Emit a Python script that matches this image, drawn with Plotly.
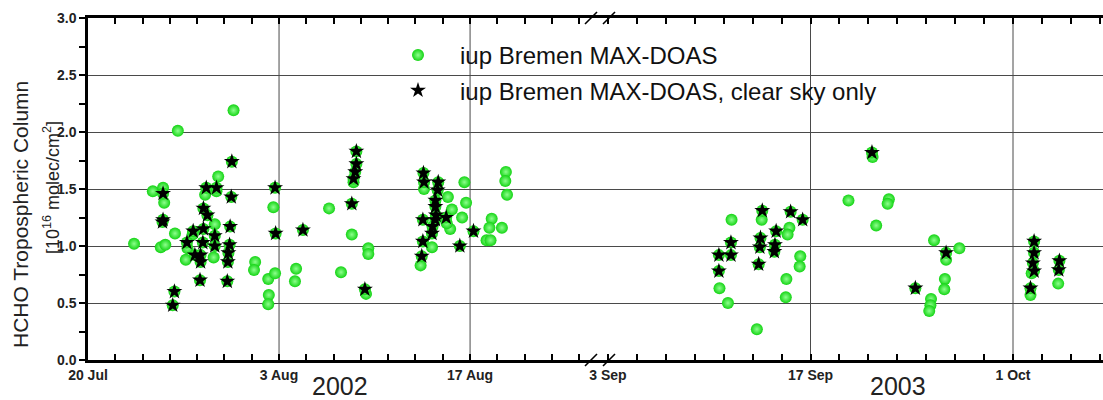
import plotly.graph_objects as go

# ---------------- data ----------------
# 2002 campaign (left axis segment): all-sky measurements not flagged clear
GREEN_L_DATES = [
    "2002-07-23 09:00", "2002-07-26 14:00", "2002-07-30 16:00", "2002-07-24 18:00",
    "2002-07-25 12:00", "2002-07-25 14:00", "2002-07-25 08:00", "2002-07-25 16:00",
    "2002-07-26 09:00", "2002-07-27 04:00", "2002-07-27 07:00", "2002-07-27 16:00",
    "2002-07-28 14:00", "2002-07-29 07:00", "2002-07-29 05:00", "2002-07-29 13:00",
    "2002-07-29 10:00", "2002-08-01 06:00", "2002-08-01 04:00", "2002-08-02 05:00",
    "2002-08-02 06:00", "2002-08-02 05:00", "2002-08-02 14:00", "2002-08-02 17:00",
    "2002-08-04 06:00", "2002-08-04 04:00", "2002-08-06 16:00", "2002-08-08 08:00",
    "2002-08-07 13:00", "2002-08-09 13:00", "2002-08-09 13:00", "2002-08-09 09:00",
    "2002-08-08 11:00", "2002-08-13 09:00", "2002-08-13 15:00", "2002-08-14 05:00",
    "2002-08-15 09:00", "2002-08-15 16:00", "2002-08-15 13:00", "2002-08-15 07:00",
    "2002-08-16 10:00", "2002-08-16 14:00", "2002-08-16 17:00", "2002-08-18 14:00",
    "2002-08-18 10:00", "2002-08-18 05:00", "2002-08-18 12:00", "2002-08-19 08:00",
    "2002-08-19 15:00", "2002-08-19 14:00", "2002-08-19 17:00",
]
GREEN_L_VALUES = [
    1.02, 2.01, 2.19, 1.48, 1.51, 1.38, 0.99, 1.01,
    1.11, 0.88, 0.98, 1.10, 1.45, 1.19, 0.90, 1.61,
    1.48, 0.86, 0.79, 0.71, 0.57, 0.49, 1.34, 0.76,
    0.80, 0.69, 1.33, 1.10, 0.77, 0.98, 0.93, 0.58,
    1.56, 0.83, 1.50, 0.99, 1.43, 1.32, 1.15, 1.20,
    1.25, 1.56, 1.38, 1.24, 1.16, 1.05, 1.05, 1.16,
    1.65, 1.57, 1.45,
]
# 2002 campaign: clear sky only
STAR_L_DATES = [
    "2002-07-25 12:00", "2002-07-25 11:00", "2002-07-25 12:00", "2002-07-26 08:00",
    "2002-07-26 05:00", "2002-07-27 17:00", "2002-07-27 06:00", "2002-07-27 20:00",
    "2002-07-28 11:00", "2002-07-28 10:00", "2002-07-28 06:00", "2002-07-28 06:00",
    "2002-07-28 05:00", "2002-07-28 16:00", "2002-07-28 11:00", "2002-07-28 18:00",
    "2002-07-29 10:00", "2002-07-29 07:00", "2002-07-29 07:00", "2002-07-30 13:00",
    "2002-07-30 12:00", "2002-07-30 10:00", "2002-07-30 09:00", "2002-07-30 07:00",
    "2002-07-30 06:00", "2002-07-30 05:00", "2002-08-02 17:00", "2002-08-02 18:00",
    "2002-08-04 18:00", "2002-08-08 16:00", "2002-08-08 16:00", "2002-08-08 14:00",
    "2002-08-08 11:00", "2002-08-08 08:00", "2002-08-09 07:00", "2002-08-13 14:00",
    "2002-08-13 15:00", "2002-08-13 13:00", "2002-08-13 13:00", "2002-08-13 11:00",
    "2002-08-14 16:00", "2002-08-14 15:00", "2002-08-14 11:00", "2002-08-14 11:00",
    "2002-08-14 12:00", "2002-08-14 11:00", "2002-08-14 06:00", "2002-08-14 05:00",
    "2002-08-15 06:00", "2002-08-16 06:00", "2002-08-17 06:00",
]
STAR_L_VALUES = [
    1.46, 1.21, 1.23, 0.60,
    0.48, 1.13, 1.03, 0.92,
    1.15, 1.03, 0.92, 0.86,
    0.70, 1.51, 1.33, 1.27,
    1.51, 1.09, 1.00, 1.74,
    1.43, 1.17, 1.01, 0.94,
    0.86, 0.69, 1.51, 1.11,
    1.14, 1.83, 1.72, 1.65,
    1.59, 1.37, 0.62, 1.64,
    1.56, 1.23, 1.04, 0.91,
    1.56, 1.49, 1.40, 1.345,
    1.27, 1.23, 1.17, 1.11,
    1.25, 1.00, 1.13,
]
# 2003 campaign (right axis segment)
GREEN_R_DATES = [
    "2003-09-11 13:00", "2003-09-10 17:00", "2003-09-11 07:00", "2003-09-13 07:00",
    "2003-09-13 15:00", "2003-09-15 13:00", "2003-09-15 10:00", "2003-09-16 07:00",
    "2003-09-16 06:00", "2003-09-15 08:00", "2003-09-15 07:00", "2003-09-19 15:00",
    "2003-09-21 13:00", "2003-09-21 07:00", "2003-09-22 10:00", "2003-09-22 08:00",
    "2003-09-25 13:00", "2003-09-27 07:00", "2003-09-26 09:00", "2003-09-26 07:00",
    "2003-09-26 06:00", "2003-09-25 08:00", "2003-09-25 07:00", "2003-09-25 05:00",
    "2003-10-02 07:00", "2003-10-02 05:00", "2003-10-04 03:00",
]
GREEN_R_VALUES = [
    1.23, 0.63, 0.50, 0.27,
    1.23, 1.16, 1.10, 0.91,
    0.82, 0.71, 0.55, 1.40,
    1.18, 1.78, 1.41, 1.37,
    1.05, 0.98, 0.88, 0.71,
    0.62, 0.535, 0.48, 0.43,
    0.76, 0.57, 0.67,
]
STAR_R_DATES = [
    "2003-09-10 16:00", "2003-09-10 16:00", "2003-09-11 12:00", "2003-09-11 12:00",
    "2003-09-13 16:00", "2003-09-13 13:00", "2003-09-13 12:00", "2003-09-13 10:00",
    "2003-09-14 15:00", "2003-09-14 13:00", "2003-09-14 12:00", "2003-09-15 15:00",
    "2003-09-16 11:00", "2003-09-21 06:00", "2003-09-24 06:00", "2003-09-26 09:00",
    "2003-10-02 11:00", "2003-10-02 11:00", "2003-10-02 09:00", "2003-10-02 11:00",
    "2003-10-02 05:00", "2003-10-04 05:00", "2003-10-04 04:00",
]
STAR_R_VALUES = [
    0.92, 0.78, 1.03, 0.92,
    1.31, 1.07, 0.99, 0.84,
    1.13, 1.01, 0.95, 1.30,
    1.23, 1.82, 0.63, 0.94,
    1.04, 0.94, 0.85, 0.78,
    0.63, 0.87, 0.79,
]

LEFT_RANGE = ["2002-07-20 00:00", "2002-08-26 09:00"]
RIGHT_RANGE = ["2003-09-02 07:25", "2003-10-07 05:20"]
LEFT_TICK0 = "2002-07-20"
RIGHT_TICK0 = "2003-09-03"
GRID_LEFT = ["2002-08-03", "2002-08-17"]
GRID_RIGHT = ["2003-09-17", "2003-10-01"]
YEAR_LABELS = ["2002", "2003"]
SERIES_NAMES = ["iup Bremen MAX-DOAS", "iup Bremen MAX-DOAS, clear sky only"]

# ---------------- layout helpers ----------------
W, H = 1103, 400
ML, MR, MT, MB = 88, 0, 18, 40
PW, PH = W - ML - MR, H - MT - MB


def px(xp):
    return (xp - ML) / PW


def py(yp):
    return (H - MB - yp) / PH


SPLIT = px(598)
DAY = 86400000.0
FONT = "Arial, Liberation Sans, sans-serif"

GREEN_EDGE = "#14d414"
GREEN_CENTER = "#8dff8d"

green_marker = dict(symbol="circle", size=12, color=GREEN_EDGE,
                    gradient=dict(type="radial", color=GREEN_CENTER),
                    line=dict(width=0))
star_marker = dict(symbol="star", size=12, color="black", line=dict(width=0))

fig = go.Figure()
fig.add_trace(go.Scatter(x=GREEN_L_DATES + STAR_L_DATES, y=GREEN_L_VALUES + STAR_L_VALUES,
                         mode="markers", marker=green_marker, name=SERIES_NAMES[0],
                         legendgroup="g1", xaxis="x", yaxis="y"))
fig.add_trace(go.Scatter(x=GREEN_R_DATES + STAR_R_DATES, y=GREEN_R_VALUES + STAR_R_VALUES,
                         mode="markers", marker=green_marker, name=SERIES_NAMES[0],
                         legendgroup="g1", showlegend=False, xaxis="x2", yaxis="y"))
fig.add_trace(go.Scatter(x=STAR_L_DATES, y=STAR_L_VALUES, mode="markers",
                         marker=star_marker, name=SERIES_NAMES[1],
                         legendgroup="g2", xaxis="x", yaxis="y"))
fig.add_trace(go.Scatter(x=STAR_R_DATES, y=STAR_R_VALUES, mode="markers",
                         marker=star_marker, name=SERIES_NAMES[1],
                         legendgroup="g2", showlegend=False, xaxis="x2", yaxis="y"))

tickfont = dict(family=FONT, size=14, color="#222", weight="bold")


def xaxis_def(domain, rng, tick0):
    return dict(type="date", domain=domain, range=rng, showgrid=False, zeroline=False,
                showline=True, linecolor="black", linewidth=2.5, mirror="ticks",
                ticks="inside", ticklen=6, tickwidth=1.5, tickcolor="black",
                tick0=tick0, dtick=14 * DAY, tickformat="%-d %b", tickfont=tickfont,
                anchor="y",
                minor=dict(tick0=tick0, dtick=2 * DAY, ticks="inside", ticklen=6,
                           tickwidth=1.5, tickcolor="black", showgrid=False))


fig.update_layout(
    width=W, height=H,
    margin=dict(l=ML, r=MR, t=MT, b=MB, pad=0),
    paper_bgcolor="white", plot_bgcolor="white",
    font=dict(family=FONT, color="#222"),
    xaxis=xaxis_def([0, SPLIT], LEFT_RANGE, LEFT_TICK0),
    xaxis2=xaxis_def([SPLIT, 1], RIGHT_RANGE, RIGHT_TICK0),
    yaxis=dict(range=[0, 3], dtick=0.5, tickformat=".1f", showgrid=True,
               gridcolor="#4a4a4a", gridwidth=1, zeroline=False, showline=True,
               linecolor="black", linewidth=2.5, ticks="outside", ticklen=6,
               tickwidth=1.5, tickcolor="black", tickfont=tickfont, anchor="x",
               minor=dict(dtick=0.25, ticks="outside", ticklen=6, tickwidth=1.5,
                          tickcolor="black", showgrid=False)),
    legend=dict(x=px(376), y=py(33), xanchor="left", yanchor="top",
                bgcolor="rgba(0,0,0,0)", borderwidth=0,
                font=dict(family=FONT, size=24, color="#111"),
                traceorder="grouped", tracegroupgap=1, itemwidth=74),
    showlegend=True,
)

# vertical grid lines at major dates (no grid at 3 Sep in the reference)
shapes = []
for d in GRID_LEFT:
    shapes.append(dict(type="line", xref="x", yref="paper", x0=d, x1=d, y0=0, y1=1,
                       line=dict(color="#4a4a4a", width=1), layer="below"))
for d in GRID_RIGHT:
    shapes.append(dict(type="line", xref="x2", yref="paper", x0=d, x1=d, y0=0, y1=1,
                       line=dict(color="#4a4a4a", width=1), layer="below"))
# axis-break marks (bottom and top)
for yc in (360, 18):
    for x0 in (585, 603):
        shapes.append(dict(type="line", xref="paper", yref="paper",
                           x0=px(x0), x1=px(x0 + 12), y0=py(yc + 6), y1=py(yc - 6),
                           line=dict(color="black", width=1.6), layer="above"))
fig.update_layout(shapes=shapes)

annotations = [
    dict(text="HCHO Tropospheric Column", xref="paper", yref="paper",
         x=px(21), y=py(215), textangle=-90, showarrow=False,
         xanchor="center", yanchor="middle",
         font=dict(family=FONT, size=21, color="#222")),
    dict(text="[10<sup>16</sup> molec/cm<sup>2</sup>]", xref="paper", yref="paper",
         x=px(51), y=py(188), textangle=-90, showarrow=False,
         xanchor="center", yanchor="middle",
         font=dict(family=FONT, size=18, color="#222")),
    dict(text=YEAR_LABELS[0], xref="paper", yref="paper", x=px(340), y=py(386),
         showarrow=False, xanchor="center", yanchor="middle",
         font=dict(family=FONT, size=25, color="#222")),
    dict(text=YEAR_LABELS[1], xref="paper", yref="paper", x=px(898), y=py(386),
         showarrow=False, xanchor="center", yanchor="middle",
         font=dict(family=FONT, size=25, color="#222")),
]
fig.update_layout(annotations=annotations)

fig.write_html("out.html")
